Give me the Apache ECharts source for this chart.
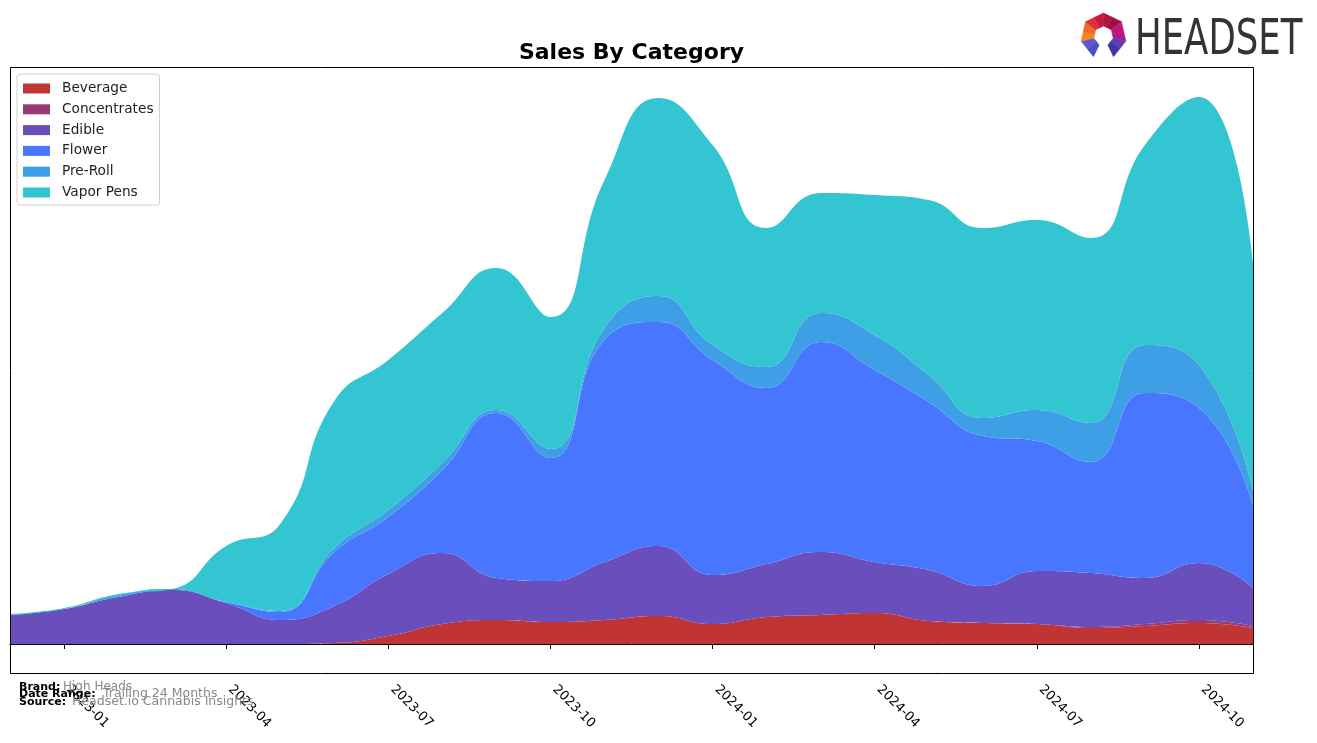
<!DOCTYPE html>
<html><head><meta charset="utf-8">
<script src="https://cdn.jsdelivr.net/npm/echarts@6/dist/echarts.min.js"></script>
<style>html,body{margin:0;padding:0;background:#fff}#c{width:1317px;height:743px}</style>
</head><body><div id="c"></div>
<script>
// ---- data (heights, arbitrary units) ----
const months = ['2022-12','2023-01','2023-02','2023-03','2023-04','2023-05','2023-06','2023-07','2023-08','2023-09','2023-10','2023-11','2023-12','2024-01','2024-02','2024-03','2024-04','2024-05','2024-06','2024-07','2024-08','2024-09','2024-10','2024-11'];
const beverage     = [0,0,0,0,0,0,1,8,20,24,22,24,28,20,27,29,31,23,21,20,16,18,21,16];
const concentrates = [0,0,0,0,0,0,0,0,0,0,0,0,0,0,0,0,0,0,0,0,1,2,3,2];
const edible       = [29,35,47,54,41,24,37,62,71,42,41,58,70,49,53,63,51,51,37,53,54,46,57,38];
const flower       = [0,0,0,0,1,8,54,57,83,165,123,222,224,215,176,210,192,168,150,130,111,185,155,83];
const preRoll      = [0,0,2,1,0,1,4,7,7,3,9,12,26,15,21,29,35,27,18,31,39,48,43,15];
const vaporPens    = [1,1,1,0,56,87,147,150,150,142,132,148,198,200,139,120,140,175,190,190,185,200,268,228];
const seriesNames  = ['Beverage','Concentrates','Edible','Flower','Pre-Roll','Vapor Pens'];
const seriesColors = ['#c13434','#983a76','#6a4fbc','#4876ff','#3e9fe6','#34c5d3'];

const FONT = 'DejaVu Sans';
const chart = echarts.init(document.getElementById('c'));

function mk(i, data) {
  return {
    name: seriesNames[i], type: 'line', stack: 'total', data: data,
    smooth: 0.5, symbol: 'none', showSymbol: false,
    lineStyle: { width: 0 }, itemStyle: { color: seriesColors[i] },
    areaStyle: { color: seriesColors[i], opacity: 1 },
    emphasis: { disabled: true }, silent: true
  };
}

// logo icon facets (heptagon ring, open at the bottom)
const icon = [];
(function () {
  const cx = 1103.5, cy = 36, R = 23, r = 10;
  const step = 360 / 7;
  const P = (a, rad) => [cx + rad * Math.sin(a * Math.PI / 180), cy - rad * Math.cos(a * Math.PI / 180)];
  const mid = (p, q) => [(p[0] + q[0]) / 2, (p[1] + q[1]) / 2];
  const colsOrdered = ['#4b4fc8','#5d58d2','#f5861f','#ef6a28','#e0303a','#c8163c','#b5123e','#9e1040','#c2177a','#b01a82','#5a3fb8','#3b36a0'];
  let i = 0;
  for (let k = -3; k < 3; k++) {
    const a0 = k * step, a2 = (k + 1) * step;
    const o0 = P(a0, R), o2 = P(a2, R), i0 = P(a0, r), i2 = P(a2, r);
    const om = mid(o0, o2), im = mid(i0, i2);
    [[o0, om, im, i0], [om, o2, i2, im]].forEach(pts => {
      const c = colsOrdered[i++];
      icon.push({ type: 'polygon', z: 100, silent: true, shape: { points: pts },
        style: { fill: c, stroke: c, lineWidth: 0.5 } });
    });
  }
})();

const option = {
  animation: false,
  backgroundColor: '#fff',
  grid: { left: 10, top: 67, width: 1243, height: 606, show: false },
  xAxis: {
    type: 'category', data: months, boundaryGap: false,
    axisLine: { show: true, lineStyle: { color: '#000', width: 1 } },
    axisTick: { show: true, length: 5, lineStyle: { color: '#000' }, interval: (i) => i % 3 === 1 },
    axisLabel: { interval: (i) => i % 3 === 1, rotate: -45, margin: 10, padding: [0,0,0,6],
      color: '#000', fontSize: 13, fontFamily: FONT },
    splitLine: { show: false }
  },
  yAxis: { type: 'value', min: -29, max: 577, show: false, splitLine: { show: false } },
  legend: {
    orient: 'vertical', left: 17, top: 74, icon: 'rect', itemWidth: 27, itemHeight: 10, itemGap: 5.8,
    backgroundColor: '#fff', borderColor: '#d0d0d0', borderWidth: 1, borderRadius: 3, padding: [7, 6, 5, 6],
    textStyle: { fontFamily: FONT, fontSize: 13.7, color: '#222', lineHeight: 15, padding: [0, 0, 0, 7] },
    data: seriesNames, selectedMode: false
  },
  series: [mk(0, beverage), mk(1, concentrates), mk(2, edible), mk(3, flower), mk(4, preRoll), mk(5, vaporPens)],
  graphic: [
    { type: 'rect', z: 50, silent: true, shape: { x: 10.5, y: 67.5, width: 1243, height: 606 },
      style: { fill: 'none', stroke: '#000', lineWidth: 1 } },
    { type: 'text', z: 50, x: 631.5, y: 53, style: { text: 'Sales By Category', font: 'bold 22px "DejaVu Sans"', fill: '#000', textAlign: 'center', textVerticalAlign: 'middle' } },
    { type: 'text', z: 60, x: 19, y: 687, style: { text: 'Brand:', font: 'bold 11px "DejaVu Sans"', fill: '#000', textVerticalAlign: 'middle' } },
    { type: 'text', z: 60, x: 63, y: 687, style: { text: 'High Heads', font: '12px "DejaVu Sans"', fill: '#888', textVerticalAlign: 'middle' } },
    { type: 'text', z: 60, x: 19, y: 694, style: { text: 'Date Range:', font: 'bold 11px "DejaVu Sans"', fill: '#000', textVerticalAlign: 'middle' } },
    { type: 'text', z: 60, x: 103, y: 694, style: { text: 'Trailing 24 Months', font: '12.5px "DejaVu Sans"', fill: '#888', textVerticalAlign: 'middle' } },
    { type: 'text', z: 60, x: 19, y: 702, style: { text: 'Source:', font: 'bold 11px "DejaVu Sans"', fill: '#000', textVerticalAlign: 'middle' } },
    { type: 'text', z: 60, x: 72, y: 702, style: { text: 'Headset.io Cannabis Insights', font: '12.5px "DejaVu Sans"', fill: '#888', textVerticalAlign: 'middle' } },
    { type: 'text', z: 100, x: 1135, y: 41, scaleX: 0.71, style: { text: 'HEADSET', font: '50px "DejaVu Sans"', fill: '#333', textVerticalAlign: 'middle' } }
  ].concat(icon)
};
chart.setOption(option);
</script></body></html>
